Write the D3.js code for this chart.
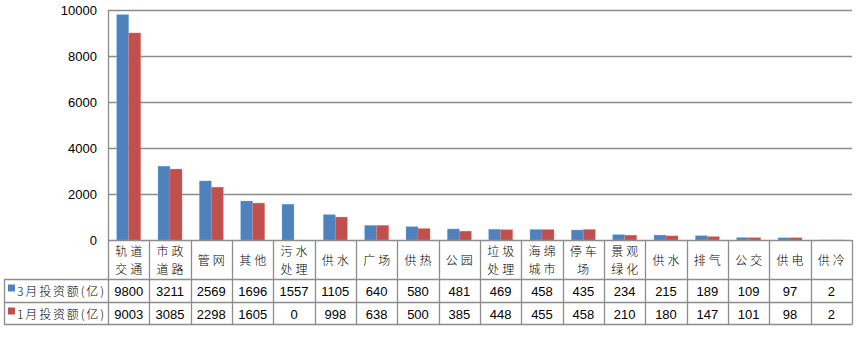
<!DOCTYPE html>
<html>
<head>
<meta charset="utf-8">
<script src="https://cdn.jsdelivr.net/npm/d3@7"></script>
<style>
  body { margin: 0; background: #fff; }
  svg text { fill: #000; }
</style>
</head>
<body>
<div id="chart"></div>
<script>
// categories (two-line labels split by "|")
var categories = ['轨道|交通', '市政|道路', '管网', '其他', '污水|处理', '供水', '广场', '供热', '公园',
    '垃圾|处理', '海绵|城市', '停车|场', '景观|绿化', '供水', '排气', '公交', '供电', '供冷'];
var seriesNames = ['3月投资额(亿)', '1月投资额(亿)'];
var marchValues = [9800, 3211, 2569, 1696, 1557, 1105, 640, 580, 481, 469, 458, 435, 234, 215, 189, 109, 97, 2];
var janValues = [9003, 3085, 2298, 1605, 0, 998, 638, 500, 385, 448, 455, 458, 210, 180, 147, 101, 98, 2];
var yTicks = [0, 2000, 4000, 6000, 8000, 10000];
var colors = ['#4F81BD', '#C0504D'];

var width = 856, height = 364,
    plot = {left: 108, right: 852, top: 10, bottom: 240},
    rows = {header: 279.5, r1: 302.5, r2: 324.5},
    labelLeft = 4,
    gridColor = '#8c8c8c',
    cjk = '"Noto Sans CJK SC", sans-serif',
    num = '"Liberation Sans", Arial, sans-serif';

var series = [marchValues, janValues];
var idx = d3.range(categories.length);

var x = d3.scaleBand().domain(idx).range([plot.left, plot.right]);
var xs = d3.scaleBand().domain([0, 1]).range([0, x.bandwidth()]).paddingOuter(0.72);
var y = d3.scaleLinear().domain([0, 10000]).range([plot.bottom, plot.top]);

var svg = d3.select('#chart').append('svg')
    .attr('width', width)
    .attr('height', height);

// gridlines
svg.append('g').selectAll('line')
    .data(yTicks.filter(function (d) { return d > 0; }))
    .enter().append('line')
        .attr('x1', plot.left).attr('x2', plot.right)
        .attr('y1', function (d) { return Math.round(y(d)) + 0.5; })
        .attr('y2', function (d) { return Math.round(y(d)) + 0.5; })
        .attr('stroke', gridColor).attr('stroke-width', 1.3);

// y tick labels
svg.append('g').selectAll('text')
    .data(yTicks)
    .enter().append('text')
        .attr('x', 97)
        .attr('y', function (d) { return y(d) + 4.5; })
        .attr('text-anchor', 'end')
        .style('font', '13px ' + num)
        .text(function (d) { return d; });

// bars
series.forEach(function (vals, s) {
    svg.append('g').selectAll('rect')
        .data(vals)
        .enter().append('rect')
            .attr('x', function (d, i) { return x(i) + xs(s); })
            .attr('width', xs.bandwidth())
            .attr('y', function (d) { return y(d); })
            .attr('height', function (d) { return plot.bottom - y(d); })
            .attr('fill', colors[s])
            .attr('stroke', d3.color(colors[s]).brighter(1.2))
            .attr('stroke-width', 0.6)
            .attr('stroke-opacity', 0.5);
});

// table grid
var tg = svg.append('g').attr('stroke', gridColor).attr('stroke-width', 1.3).attr('fill', 'none');
tg.append('line').attr('x1', plot.left).attr('x2', plot.right).attr('y1', plot.bottom + 0.5).attr('y2', plot.bottom + 0.5);
[rows.header, rows.r1, rows.r2].forEach(function (yy) {
    tg.append('line').attr('x1', labelLeft).attr('x2', plot.right).attr('y1', yy).attr('y2', yy);
});
// vertical lines
idx.concat([categories.length]).forEach(function (i) {
    var xx = i < categories.length ? x(i) : plot.right;
    tg.append('line').attr('x1', Math.round(xx) + 0.5).attr('x2', Math.round(xx) + 0.5)
        .attr('y1', i === 0 ? plot.top : plot.bottom).attr('y2', rows.r2);
});
tg.append('line').attr('x1', labelLeft + 0.5).attr('x2', labelLeft + 0.5).attr('y1', rows.header).attr('y2', rows.r2);

// header labels
var head = svg.append('g');
categories.forEach(function (c, i) {
    var lines = c.split('|');
    var cx = x(i) + x.bandwidth() / 2;
    var y0 = lines.length === 1 ? 265 : 256;
    lines.forEach(function (l, k) {
        head.append('text')
            .attr('x', cx + 1.5)
            .attr('y', y0 + k * 18)
            .attr('text-anchor', 'middle')
            .style('font', '300 12px ' + cjk)
            .style('letter-spacing', '3px')
            .text(l);
    });
});

// value rows
var rowY = [rows.header + 16, rows.r1 + 16];
series.forEach(function (vals, s) {
    svg.append('g').selectAll('text')
        .data(vals)
        .enter().append('text')
            .attr('x', function (d, i) { return x(i) + x.bandwidth() / 2; })
            .attr('y', rowY[s])
            .attr('text-anchor', 'middle')
            .style('font', '13px ' + num)
            .text(function (d) { return d; });

    // legend key + series name
    svg.append('rect')
        .attr('x', 8).attr('y', rowY[s] - 11)
        .attr('width', 7).attr('height', 7)
        .attr('fill', colors[s]);
    svg.append('text')
        .attr('x', 17).attr('y', rowY[s])
        .attr('textLength', 87).attr('lengthAdjust', 'spacing')
        .style('font', '300 12px ' + cjk)
        .text(seriesNames[s]);
});
</script>
</body>
</html>
